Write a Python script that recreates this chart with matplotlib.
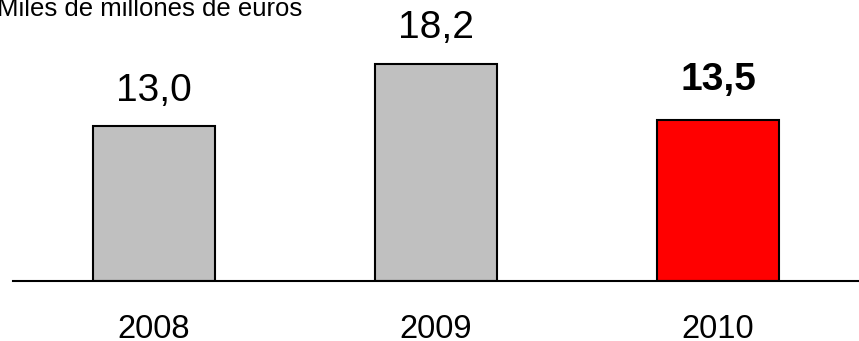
import matplotlib
matplotlib.use("Agg")
import matplotlib.pyplot as plt

plt.rcParams['font.family'] = ['Liberation Sans', 'DejaVu Sans']

# Data
years = ["2008", "2009", "2010"]
values = [13.0, 18.2, 13.5]
value_labels = ["13,0", "18,2", "13,5"]
bar_colors = ["#C0C0C0", "#C0C0C0", "#FF0000"]
label_weights = ["normal", "normal", "bold"]
unit_label = "Miles de millones de euros"

W, H = 859, 341
fig = plt.figure(figsize=(W / 100, H / 100), dpi=100)

base_px = 280.5
ax = fig.add_axes([13 / W, (H - base_px) / H, 846 / W, base_px / H])
ax.set_xlim(-0.5, 2.5)
ax.set_ylim(0, base_px / 11.9)

x = list(range(len(years)))
bars = ax.bar(x, values, width=0.433, color=bar_colors,
              edgecolor="black", linewidth=1.5, zorder=2)

offsets = [18, 18.5, 21.5]
for xi, v, lab, w, off in zip(x, values, value_labels, label_weights, offsets):
    ax.annotate(lab, xy=(xi, v), xytext=(0, off), textcoords="offset points",
                ha="center", va="baseline", fontsize=28, fontweight=w,
                color="black")

for side in ["top", "right", "left"]:
    ax.spines[side].set_visible(False)
ax.spines["bottom"].set_linewidth(1.5)
ax.spines["bottom"].set_color("black")
ax.spines["bottom"].set_zorder(3)

ax.set_yticks([])
ax.set_xticks(x)
ax.set_xticklabels(years, fontsize=23.5)
ax.tick_params(axis="x", length=0, pad=41.4)
for lbl in ax.get_xticklabels():
    lbl.set_verticalalignment("baseline")

fig.text(-0.003, (H - 15.7) / H, unit_label, fontsize=18.5,
         ha="left", va="baseline", color="black")

fig.savefig("out.png", dpi=100)
